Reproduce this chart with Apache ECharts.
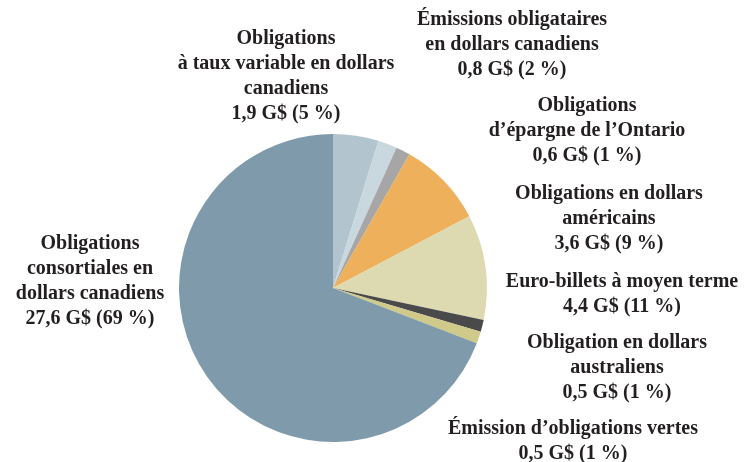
<!DOCTYPE html>
<html>
<head>
<meta charset="utf-8">
<script src="https://cdn.jsdelivr.net/npm/echarts@6/dist/echarts.min.js"></script>
<style>html,body{margin:0;padding:0;background:#fff;}#c{width:756px;height:462px;}</style>
</head>
<body>
<div id="c"></div>
<script>
// Data (clockwise from 12 o'clock)
const categories = [
  "Obligations\nà taux variable en dollars\ncanadiens",
  "Émissions obligataires\nen dollars canadiens",
  "Obligations\nd’épargne de l’Ontario",
  "Obligations en dollars\naméricains",
  "Euro-billets à moyen terme",
  "Obligation en dollars\naustraliens",
  "Émission d’obligations vertes",
  "Obligations\nconsortiales en\ndollars canadiens"
];
const valuesBn = [1.9, 0.8, 0.6, 3.6, 4.4, 0.5, 0.5, 27.6];
const percents = [5, 2, 1, 9, 11, 1, 1, 69];

// Styling (kept separate from data)
const colors = ["#b2c4ce", "#c9d7df", "#a6a6a6", "#eeb05a", "#dddab1", "#4a4a4a", "#cfc98a", "#7f9bab"];
const labelPos = [
  [286, 76], [512, 45], [587, 131], [609, 219],
  [622, 294], [617, 368], [573, 441], [90, 281]
];

const fmt = v => v.toFixed(1).replace('.', ',');

const chart = echarts.init(document.getElementById('c'), null, {renderer: 'canvas'});
chart.setOption({
  animation: false,
  backgroundColor: '#ffffff',
  series: [{
    type: 'pie',
    center: [333, 288],
    radius: [0, 154],
    startAngle: 90,
    clockwise: true,
    silent: true,
    itemStyle: {borderWidth: 0},
    label: {
      show: true,
      position: 'outside',
      formatter: p => categories[p.dataIndex] + '\n' + fmt(valuesBn[p.dataIndex]) + ' G$ (' + percents[p.dataIndex] + ' %)',
      fontFamily: 'Liberation Serif',
      fontWeight: 'bold',
      fontSize: 20,
      lineHeight: 25,
      color: '#231f20',
      align: 'center',
      width: 400,
      overflow: 'none'
    },
    labelLine: {show: false},
    labelLayout: params => ({
      x: labelPos[params.dataIndex][0],
      y: labelPos[params.dataIndex][1],
      align: 'center',
      verticalAlign: 'middle',
      hideOverlap: false,
      moveOverlap: null
    }),
    data: valuesBn.map((v, i) => ({
      value: v,
      name: categories[i],
      itemStyle: {color: colors[i]}
    }))
  }]
});
</script>
</body>
</html>
